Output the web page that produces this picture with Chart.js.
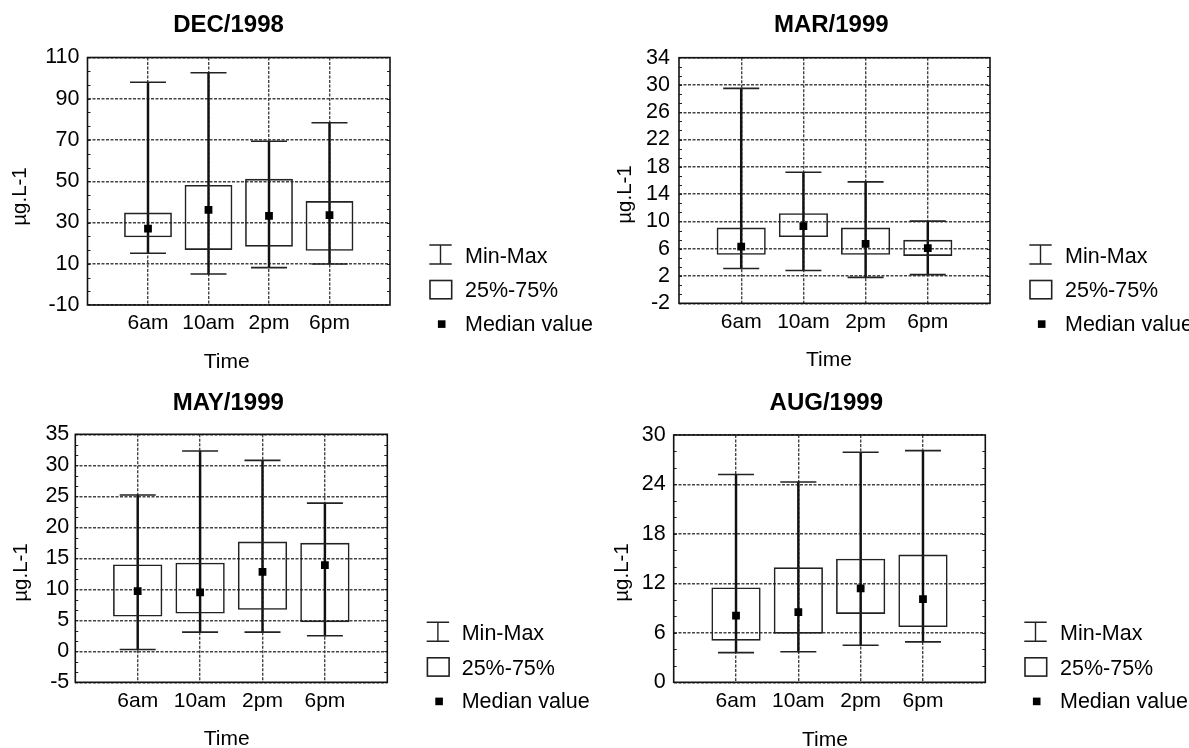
<!DOCTYPE html>
<html><head><meta charset="utf-8">
<script src="https://cdn.jsdelivr.net/npm/chart.js@4.4.1/dist/chart.umd.min.js"></script>
<style>
html,body{margin:0;padding:0;background:#fff;}
body{width:1189px;height:748px;position:relative;overflow:hidden;}
canvas{position:absolute;}
</style></head><body>
<canvas id="c1" width="594" height="374" style="left:0px;top:0px"></canvas>
<canvas id="c2" width="595" height="374" style="left:594px;top:0px"></canvas>
<canvas id="c3" width="594" height="374" style="left:0px;top:374px"></canvas>
<canvas id="c4" width="595" height="374" style="left:594px;top:374px"></canvas>
<script>
// ---- data ----
const times = ['6am', '10am', '2pm', '6pm'];

const decMin = [15.1, 5.0, 8.1, 9.9];
const decQ1  = [22.8, 16.7, 18.3, 16.3];
const decMed = [27.0, 36.1, 33.2, 33.6];
const decQ3  = [34.8, 48.2, 51.2, 40.4];
const decMax = [98.0, 102.6, 69.4, 78.4];

const marMin = [3.1, 2.8, 1.8, 2.2];
const marQ1  = [5.1, 7.7, 5.1, 4.95];
const marMed = [6.3, 9.3, 6.7, 6.1];
const marQ3  = [9.1, 11.2, 9.1, 7.3];
const marMax = [29.5, 17.2, 15.8, 10.05];

const mayMin = [0.3, 3.1, 3.1, 2.5];
const mayQ1  = [5.6, 6.1, 6.7, 4.7];
const mayMed = [9.7, 9.5, 12.8, 13.9];
const mayQ3  = [14.0, 14.3, 17.7, 17.5];
const mayMax = [25.2, 32.3, 30.8, 23.9];

const augMin = [3.6, 3.7, 4.5, 4.9];
const augQ1  = [5.05, 5.9, 8.3, 6.7];
const augMed = [8.1, 8.5, 11.4, 10.1];
const augQ3  = [11.5, 13.95, 15.0, 15.5];
const augMax = [25.2, 24.3, 27.9, 28.1];

const legendLabels = ['Min-Max', '25%-75%', 'Median value'];
const yTitle = 'µg.L-1';
const xTitle = 'Time';

// ---- layout ----
const FAM = '"Liberation Sans", Arial, sans-serif';
const panels = [
  {id:'c1', ox:0, oy:0, w:594, h:374, title:'DEC/1998',
   min:decMin, q1:decQ1, med:decMed, q3:decQ3, max:decMax, yMin:-10, yMax:110, yStep:20,
   plot:{l:87.5, t:57.5, r:390, b:305}, tickPad:8,
   titleXY:[228.5, 25], yLabXY:[20.5, 196.5], timeXY:[226.7, 362],
   leg:{x:429.3, y:245, tx:465}},
  {id:'c2', ox:594, oy:0, w:595, h:374, title:'MAR/1999',
   min:marMin, q1:marQ1, med:marMed, q3:marQ3, max:marMax, yMin:-2, yMax:34, yStep:4,
   plot:{l:679, t:57.7, r:990, b:303.3}, tickPad:9,
   titleXY:[831.3, 25], yLabXY:[625, 194.5], timeXY:[829, 360],
   leg:{x:1029.3, y:245, tx:1065}},
  {id:'c3', ox:0, oy:374, w:594, h:374, title:'MAY/1999',
   min:mayMin, q1:mayQ1, med:mayMed, q3:mayQ3, max:mayMax, yMin:-5, yMax:35, yStep:5,
   plot:{l:75.3, t:434.3, r:387.3, b:682.3}, tickPad:6,
   titleXY:[228.3, 403.3], yLabXY:[21.5, 572.5], timeXY:[226.7, 739],
   leg:{x:426.7, y:622.3, tx:461.7}},
  {id:'c4', ox:594, oy:374, w:595, h:374, title:'AUG/1999',
   min:augMin, q1:augQ1, med:augMed, q3:augQ3, max:augMax, yMin:0, yMax:30, yStep:6,
   plot:{l:673.7, t:435, r:985.3, b:682.3}, tickPad:8,
   titleXY:[826.3, 403], yLabXY:[622, 572.5], timeXY:[825, 740],
   leg:{x:1024.3, y:622.3, tx:1060}}
];

const pad = arr => [null, ...arr, null];

const overlay = {
  id: 'overlay',
  afterDraw(chart, args, o) {
    const p = o.panel;
    const ctx = chart.ctx;
    const ca = chart.chartArea;
    const ys = chart.scales.y;
    ctx.save();
    // minor ticks on left / right frame edges
    ctx.strokeStyle = '#222';
    ctx.lineWidth = 1;
    const minorStep = p.yStep / 3;
    for (let v = p.yMin + minorStep; v < p.yMax - 1e-9; v += minorStep) {
      const y = Math.round(ys.getPixelForValue(v)) + 0.5;
      ctx.beginPath();
      ctx.moveTo(ca.left, y); ctx.lineTo(ca.left + 3, y);
      ctx.moveTo(ca.right, y); ctx.lineTo(ca.right - 3, y);
      ctx.stroke();
    }
    // frame
    ctx.strokeStyle = '#111';
    ctx.lineWidth = 1.6;
    ctx.strokeRect(ca.left, ca.top, ca.right - ca.left, ca.bottom - ca.top);

    const X = x => x - p.ox, Y = y => y - p.oy;
    ctx.fillStyle = '#000';
    // title
    ctx.font = 'bold 24px ' + FAM;
    ctx.textAlign = 'center'; ctx.textBaseline = 'middle';
    ctx.fillText(p.title, X(p.titleXY[0]), Y(p.titleXY[1]));
    // x title
    ctx.font = '21px ' + FAM;
    ctx.fillText(xTitle, X(p.timeXY[0]), Y(p.timeXY[1]));
    // y title
    ctx.save();
    ctx.translate(X(p.yLabXY[0]), Y(p.yLabXY[1]));
    ctx.rotate(-Math.PI / 2);
    ctx.font = '20.5px ' + FAM;
    ctx.fillText(yTitle, 0, 0);
    ctx.restore();

    // legend
    const L = p.leg;
    const lx = X(L.x), ly = Y(L.y), iw = 22.4;
    ctx.strokeStyle = '#222';
    ctx.lineWidth = 1.4;
    ctx.beginPath();
    ctx.moveTo(lx, ly); ctx.lineTo(lx + iw, ly);
    ctx.moveTo(lx, ly + 19); ctx.lineTo(lx + iw, ly + 19);
    ctx.moveTo(lx + iw / 2, ly); ctx.lineTo(lx + iw / 2, ly + 19);
    ctx.stroke();
    ctx.lineWidth = 1.6;
    ctx.strokeRect(lx + 0.7, ly + 35.5, iw - 0.7, 18.3);
    ctx.fillStyle = '#000';
    ctx.fillRect(lx + 8.6, ly + 75.3, 7.6, 7.6);
    ctx.font = '21.5px ' + FAM;
    ctx.textAlign = 'left';
    ctx.fillText(legendLabels[0], X(L.tx), ly + 11.6);
    ctx.fillText(legendLabels[1], X(L.tx), ly + 46.5);
    ctx.fillText(legendLabels[2], X(L.tx), ly + 79.8);
    ctx.restore();
  }
};

panels.forEach(p => {
  const el = document.getElementById(p.id);
  const plotL = p.plot.l - p.ox, plotT = p.plot.t - p.oy, plotR = p.plot.r - p.ox, plotB = p.plot.b - p.oy;
  const gridColor = ctx => (ctx.index === 0 || ctx.index === 5) ? 'rgba(0,0,0,0)' : '#444';
  new Chart(el, {
    type: 'bar',
    data: {
      labels: ['', ...times, ''],
      datasets: [
        {type:'bar', label:'whisker', data: pad(times.map((_, i) => [p.min[i], p.max[i]])),
         backgroundColor:'#111', borderWidth:0, barThickness:1.8, grouped:false, order:4},
        {type:'bar', label:legendLabels[1], data: pad(times.map((_, i) => [p.q1[i], p.q3[i]])),
         backgroundColor:'rgba(0,0,0,0)', borderColor:'#222', borderWidth:1.6, borderSkipped:false,
         barPercentage:0.79, categoryPercentage:1, grouped:false, order:3},
        {type:'line', label:'max', data: pad(p.max), showLine:false, pointStyle:'line',
         pointRadius:18, borderColor:'#222', borderWidth:1.6, order:2},
        {type:'line', label:'min', data: pad(p.min), showLine:false, pointStyle:'line',
         pointRadius:18, borderColor:'#222', borderWidth:1.6, order:2},
        {type:'line', label:legendLabels[2], data: pad(p.med), showLine:false, pointStyle:'rect',
         pointRadius:5.5, backgroundColor:'#000', borderColor:'#000', borderWidth:0, order:1}
      ]
    },
    options: {
      responsive:false, animation:false, events:[],
      layout:{padding:{left:0, top:plotT, right:p.w - plotR, bottom:0}},
      plugins:{legend:{display:false}, tooltip:{enabled:false}, title:{display:false}, overlay:{panel:p}},
      scales:{
        x:{type:'category', offset:false,
           grid:{offset:false, color:gridColor, lineWidth:1.4, drawTicks:false},
           border:{display:false, dash:[3,1.5]},
           ticks:{padding:6, color:'#000', font:{family:FAM, size:21}, autoSkip:false, maxRotation:0, minRotation:0},
           afterFit: s => { s.height = p.h - plotB; }},
        y:{type:'linear', min:p.yMin, max:p.yMax,
           grid:{color:'#444', lineWidth:1.4, drawTicks:false},
           border:{display:false, dash:[3,1.5]},
           ticks:{stepSize:p.yStep, autoSkip:false, padding:p.tickPad, color:'#000', font:{family:FAM, size:21.5}},
           afterFit: s => { s.width = plotL; }}
      }
    },
    plugins:[overlay]
  });
});
</script>
</body></html>
